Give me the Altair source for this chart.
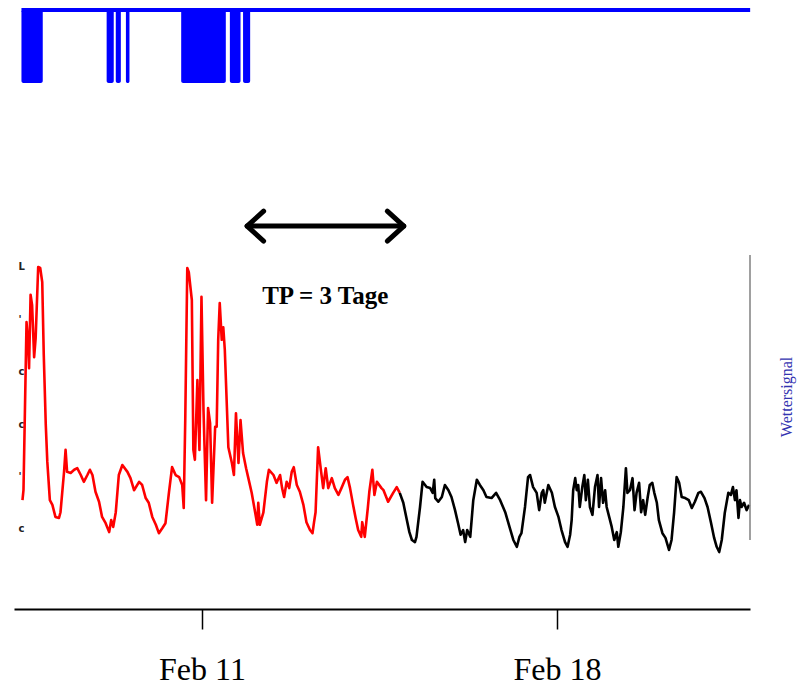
import json
import altair as alt
import pandas as pd

# ---------------- data ----------------
# time as fractional day of February, value in the sensor's (unlabelled) units
line_days = [7.46, 7.48, 7.54, 7.57, 7.59, 7.62, 7.65, 7.69, 7.72, 7.77, 7.81, 7.85, 7.88, 7.92, 7.95,
             8.00, 8.05, 8.11, 8.18, 8.21, 8.28, 8.31, 8.34, 8.41, 8.48, 8.54, 8.61, 8.67, 8.74, 8.79,
             8.84, 8.90, 8.97, 9.03, 9.10, 9.17, 9.21, 9.25, 9.30, 9.36, 9.43, 9.53, 9.59, 9.66, 9.76,
             9.82, 9.89, 9.95, 10.02, 10.09, 10.15, 10.22, 10.28, 10.35, 10.41, 10.48, 10.55, 10.61, 10.64, 10.67,
             10.71, 10.74, 10.80, 10.83, 10.86, 10.91, 10.95, 10.99, 11.03, 11.08, 11.12, 11.16, 11.20, 11.26, 11.29,
             11.32, 11.35, 11.39, 11.42, 11.45, 11.52, 11.59, 11.63, 11.67, 11.72, 11.76, 11.81, 11.87, 11.91, 11.98,
             12.05, 12.09, 12.11, 12.14, 12.21, 12.28, 12.32, 12.41, 12.47, 12.54, 12.58, 12.62, 12.67, 12.72, 12.77,
             12.81, 12.87, 12.93, 13.00, 13.06, 13.13, 13.18, 13.21, 13.24, 13.29, 13.35, 13.39, 13.44, 13.49, 13.56,
             13.62, 13.69, 13.75, 13.82, 13.87, 13.92, 13.98, 14.03, 14.08, 14.14, 14.16, 14.21, 14.27, 14.30, 14.36,
             14.40, 14.45, 14.54, 14.58, 14.67, 14.77, 14.84, 14.90, 14.97, 15.04, 15.09, 15.14, 15.20, 15.23, 15.30,
             15.35, 15.43, 15.50, 15.55, 15.58, 15.60, 15.66, 15.73, 15.79, 15.86, 15.92, 15.99, 16.05, 16.10, 16.15,
             16.19, 16.23, 16.29, 16.35, 16.42, 16.48, 16.55, 16.61, 16.71, 16.80, 16.88, 16.98, 17.07, 17.14, 17.21,
             17.26, 17.30, 17.37, 17.43, 17.47, 17.53, 17.60, 17.65, 17.70, 17.73, 17.76, 17.83, 17.90, 17.96, 18.03,
             18.09, 18.16, 18.21, 18.26, 18.29, 18.32, 18.36, 18.39, 18.42, 18.45, 18.50, 18.54, 18.57, 18.61, 18.65,
             18.70, 18.75, 18.80, 18.83, 18.87, 18.91, 18.95, 18.98, 19.03, 19.08, 19.13, 19.18, 19.21, 19.26, 19.31,
             19.36, 19.39, 19.44, 19.49, 19.53, 19.57, 19.62, 19.66, 19.70, 19.74, 19.79, 19.83, 19.88, 19.92, 19.97,
             20.01, 20.08, 20.14, 20.21, 20.26, 20.31, 20.36, 20.41, 20.46, 20.53, 20.60, 20.66, 20.72, 20.79, 20.84,
             20.91, 20.97, 21.04, 21.10, 21.15, 21.20, 21.25, 21.31, 21.38, 21.43, 21.47, 21.51, 21.54, 21.58, 21.61,
             21.64, 21.69, 21.74, 21.79]
line_vals = [0.55, 0.74, 3.95, 3.57, 3.07, 4.47, 4.27, 3.28, 3.64, 5.00, 4.98, 4.71, 3.32, 1.98, 1.28,
             0.55, 0.46, 0.23, 0.21, 0.32, 1.09, 1.51, 1.09, 1.07, 1.13, 1.16, 1.03, 0.90, 1.03, 1.13,
             1.03, 0.71, 0.52, 0.23, 0.11, -0.06, 0.17, 0.04, 0.32, 1.03, 1.22, 1.09, 0.97, 0.74, 0.90,
             0.84, 0.59, 0.50, 0.23, 0.08, -0.08, 0.02, 0.11, 0.71, 1.18, 1.03, 0.99, 0.84, 0.40, 2.08,
             4.98, 4.90, 4.37, 1.51, 1.32, 2.84, 1.51, 4.43, 2.27, 0.55, 2.31, 2.02, 0.50, 1.95, 1.95,
             3.61, 4.31, 3.61, 3.85, 3.42, 1.56, 1.26, 1.03, 2.21, 1.26, 2.08, 1.45, 1.16, 0.99, 0.69,
             0.31, 0.08, 0.50, 0.08, 0.31, 0.90, 1.13, 1.03, 0.88, 1.03, 0.78, 0.61, 0.90, 0.78, 1.09,
             1.18, 0.84, 0.71, 0.46, 0.13, -0.02, -0.08, 0.13, 0.32, 1.56, 1.09, 0.78, 1.16, 0.78, 0.97,
             0.78, 0.65, 0.78, 0.94, 0.99, 0.78, 0.46, 0.21, -0.02, -0.15, 0.13, -0.15, 0.40, 0.71, 1.13,
             0.65, 0.90, 0.78, 0.74, 0.52, 0.69, 0.80, 0.69, 0.50, 0.17, -0.06, -0.21, -0.25, -0.15, 0.42,
             0.90, 0.80, 0.78, 0.69, 0.94, 0.59, 0.52, 0.61, 0.84, 0.74, 0.61, 0.36, 0.11, -0.11, -0.02,
             -0.25, -0.02, -0.15, 0.55, 0.94, 0.84, 0.74, 0.61, 0.59, 0.69, 0.55, 0.32, 0.02, -0.21, -0.34,
             -0.15, -0.08, 0.42, 0.99, 1.03, 0.80, 0.69, 0.36, 0.69, 0.74, 0.50, 0.84, 0.69, 0.42, 0.23,
             -0.02, -0.25, -0.34, -0.11, 0.17, 0.74, 0.97, 0.74, 0.84, 0.42, 0.80, 1.03, 0.55, 0.94, 0.42,
             0.27, 0.80, 1.03, 0.42, 0.97, 0.50, 0.74, 0.42, 0.23, 0.04, -0.21, -0.06, -0.34, -0.06, 0.42,
             1.16, 0.69, 0.74, 0.97, 0.36, 0.69, 0.88, 0.32, 0.55, 0.27, 0.61, 0.84, 0.88, 0.69, 0.50,
             0.17, -0.08, -0.17, -0.40, -0.21, 0.31, 0.99, 0.88, 0.61, 0.59, 0.55, 0.40, 0.52, 0.69, 0.71,
             0.59, 0.42, 0.11, -0.17, -0.34, -0.44, -0.21, 0.31, 0.69, 0.65, 0.80, 0.55, 0.74, 0.21, 0.55,
             0.42, 0.50, 0.36, 0.46]
split_day = 14.90          # red (training) part ends, black part begins

# weather signal: periods where the signal is switched on
signal_on_start = [7.44, 9.12, 9.30, 9.50, 10.59, 11.55, 11.81]
signal_on_end = [7.86, 9.26, 9.40, 9.57, 11.47, 11.76, 11.95]
signal_span = [7.44, 21.81]

x_tick_days = [11, 18]
y_tick_vals = [0, 1, 2, 3, 4, 5]
y_tick_glyphs = ["c", "'", "c", "c", "'", "L"]   # cut-off labels of the original

arrow_from, arrow_to, arrow_level = 11.89, 14.98, 5.78
tp_text, tp_day, tp_level = "TP = 3 Tage", 13.43, 4.45
right_axis_day, right_axis_lo, right_axis_hi = 21.807, -0.21, 5.23
right_title, right_title_day, right_title_level = "Wettersignal", 22.535, 2.52

x_domain_days = [7.293, 21.807]
value_domain = [-1.527, 10.095]
signal_domain = [-7.205, 1.137]

SERIF = "Liberation Serif"


def ms(day):
    return int((pd.Timestamp("2019-02-01", tz="UTC") + pd.Timedelta(days=day - 1)).value // 10**6)


# ---------------- tables ----------------
rows = []
for d, v in zip(line_days, line_vals):
    if d <= split_day:
        rows.append({"t": ms(d), "v": v, "seg": "a"})
    if d >= split_day:
        rows.append({"t": ms(d), "v": v, "seg": "b"})
line_df = pd.DataFrame(rows)

sig_df = pd.DataFrame({"t": [ms(d) for d in signal_on_start],
                       "t2": [ms(d) for d in signal_on_end],
                       "s": [0] * len(signal_on_start), "s2": [1] * len(signal_on_start)})
sig_line_df = pd.DataFrame({"t": [ms(d) for d in signal_span], "s": [1, 1]})

arrow_df = pd.DataFrame({"t": [ms(arrow_from)], "t2": [ms(arrow_to)], "v": [arrow_level]})
heads_df = pd.DataFrame({"t": [ms(arrow_from), ms(arrow_to)], "v": [arrow_level] * 2,
                         "side": ["l", "r"]})
tp_df = pd.DataFrame({"t": [ms(tp_day)], "v": [tp_level], "label": [tp_text]})
raxis_df = pd.DataFrame({"t": [ms(right_axis_day)], "v": [right_axis_lo], "v2": [right_axis_hi]})
rtitle_df = pd.DataFrame({"t": [ms(right_title_day)], "v": [right_title_level], "label": [right_title]})

# ---------------- scales / axes ----------------
xscale = alt.Scale(type="utc", domain=[ms(d) for d in x_domain_days], nice=False)
xaxis = alt.Axis(values=[ms(d) for d in x_tick_days],
                 labelExpr="utcFormat(datum.value, '%b %d')",
                 title=None, grid=False, domainColor="black", domainWidth=2,
                 tickColor="black", tickWidth=1.5, tickSize=20,
                 labelFont=SERIF, labelFontSize=32, labelColor="black", labelPadding=25)
X = alt.X("t:Q", type="temporal", scale=xscale, axis=xaxis)

vscale = alt.Scale(domain=value_domain, nice=False, zero=False)
yaxis = alt.Axis(values=y_tick_vals, labelExpr=json.dumps(y_tick_glyphs) + "[datum.value]",
                 title=None, grid=False, domain=False, ticks=False,
                 labelAlign="left", labelPadding=-4, labelFontSize=10, labelFont="DejaVu Sans",
                 labelFontWeight="bold", labelColor="#222222", labelBaseline="middle")
Y = alt.Y("v:Q", scale=vscale, axis=yaxis)

sscale = alt.Scale(domain=signal_domain, nice=False, zero=False)

# ---------------- weather signal (top) ----------------
sig_rects = alt.Chart(sig_df).mark_rect(color="#0000ff", cornerRadius=2).encode(
    x=X, x2="t2:T", y=alt.Y("s:Q", scale=sscale, axis=None), y2="s2:Q")
sig_line = alt.Chart(sig_line_df).mark_line(color="#0000ff", strokeWidth=4).encode(
    x=X, y=alt.Y("s:Q", scale=sscale, axis=None))
signal_group = alt.layer(sig_rects, sig_line)

# ---------------- main series ----------------
series = alt.Chart(line_df).mark_line(strokeWidth=2.6, strokeJoin="round").encode(
    x=X, y=Y,
    color=alt.Color("seg:N", scale=alt.Scale(domain=["a", "b"], range=["#ff0000", "#000000"]),
                    legend=None))

shaft = alt.Chart(arrow_df).mark_rule(color="black", strokeWidth=5, strokeCap="round").encode(
    x=X, x2="t2:T", y=Y)
heads = alt.Chart(heads_df).mark_point(
    filled=False, color="black", strokeWidth=5, size=900, opacity=1,
    strokeCap="round", strokeJoin="round").encode(
    x=X, y=Y,
    shape=alt.Shape("side:N", scale=alt.Scale(domain=["l", "r"],
                                              range=["M1.1,-1L0,0L1.1,1", "M-1.1,-1L0,0L-1.1,1"]),
                    legend=None))
tp_label = alt.Chart(tp_df).mark_text(font=SERIF, fontSize=25, fontWeight="bold", color="black",
                                      align="center", baseline="middle").encode(
    x=X, y=Y, text="label:N")
raxis = alt.Chart(raxis_df).mark_rule(color="#808080", strokeWidth=1.5).encode(
    x=X, y=Y, y2="v2:Q")
rtitle = alt.Chart(rtitle_df).mark_text(font=SERIF, fontSize=16, color="#3333b0", angle=270,
                                        align="center", baseline="middle").encode(
    x=X, y=Y, text="label:N")

main_group = alt.layer(series, raxis, shaft, heads, tp_label, rtitle)

chart = alt.layer(signal_group, main_group).resolve_scale(y="independent").properties(
    width=736, height=609,
    padding={"left": 14, "top": 0, "right": 50, "bottom": 84},
    autosize=alt.AutoSizeParams(type="none"),
    background="white",
).configure_view(stroke=None)

chart.save("out.html", embed_options={"renderer": "svg", "actions": False})
